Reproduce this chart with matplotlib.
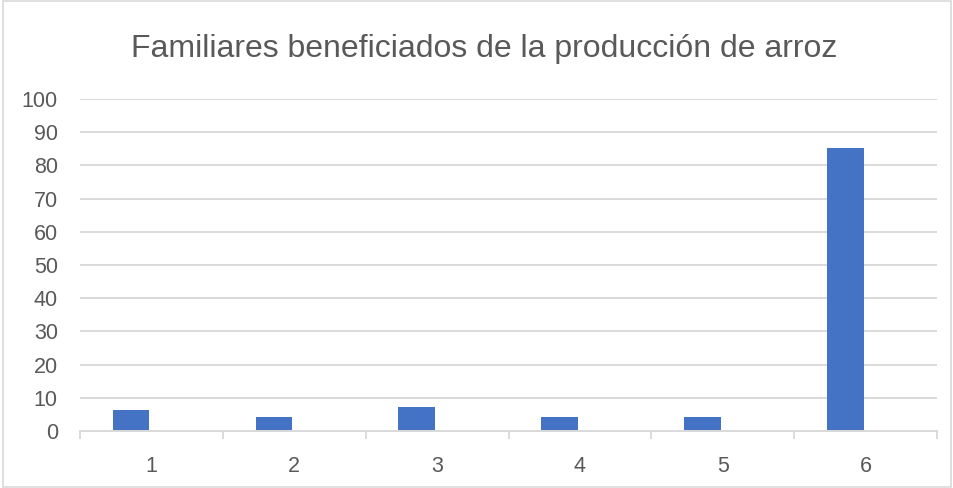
import matplotlib
matplotlib.use("Agg")
import matplotlib.pyplot as plt
from matplotlib.patches import Rectangle
import numpy as np

categories = ["1", "2", "3", "4", "5", "6"]
serie1 = [6.3, 4.3, 7.2, 4.3, 4.3, 85.3]
serie2 = [0, 0, 0, 0, 0, 0]
yticks = [0, 10, 20, 30, 40, 50, 60, 70, 80, 90, 100]

plt.rcParams['font.family'] = ['Liberation Sans', 'DejaVu Sans']
txt = '#595959'
grid = '#d9d9d9'

fig = plt.figure(figsize=(9.54, 4.88), dpi=100)
ax = fig.add_axes([80/954, (488-431)/488, (937-80)/954, (431-99)/488])

x = np.arange(1, len(categories) + 1)
w = 0.257
ax.bar(x - 0.142, serie1, width=w, color='#4472c4', zorder=3)
ax.bar(x + 0.142, serie2, width=w, color='#ed7d31', linewidth=0, zorder=3)

ax.set_xlim(0.5, 6.5)
ax.set_ylim(0, 100)
ax.set_yticks(yticks)
ax.set_yticklabels([str(v) for v in yticks], color=txt, fontsize=15.5)
ax.tick_params(axis='y', length=0, pad=16)
for v in yticks[1:]:
    ax.axhline(v, color=grid, lw=1.4, zorder=1)

ax.set_xticks(np.arange(0.5, 7.0, 1.0))
ax.set_xticklabels([])
ax.tick_params(axis='x', which='major', length=6, width=1.3, color=grid)
ax.set_xticks(x, minor=True)
ax.set_xticklabels(categories, minor=True, color=txt, fontsize=15.5)
ax.tick_params(axis='x', which='minor', length=0, pad=18)

for s in ['left', 'right', 'top']:
    ax.spines[s].set_visible(False)
ax.spines['bottom'].set_color(grid)
ax.spines['bottom'].set_linewidth(1.4)
ax.spines['bottom'].set_zorder(4)

fig.text(484.5/954, 1 - 49/488, "Familiares beneficiados de la producción de arroz",
         ha='center', va='center', fontsize=23, color=txt)

fig.patches.append(Rectangle((3/954, 1/488), 948/954, 486/488, transform=fig.transFigure,
                             fill=False, edgecolor='#d9d9d9', lw=1.2))

fig.savefig('out.png', dpi=100)
